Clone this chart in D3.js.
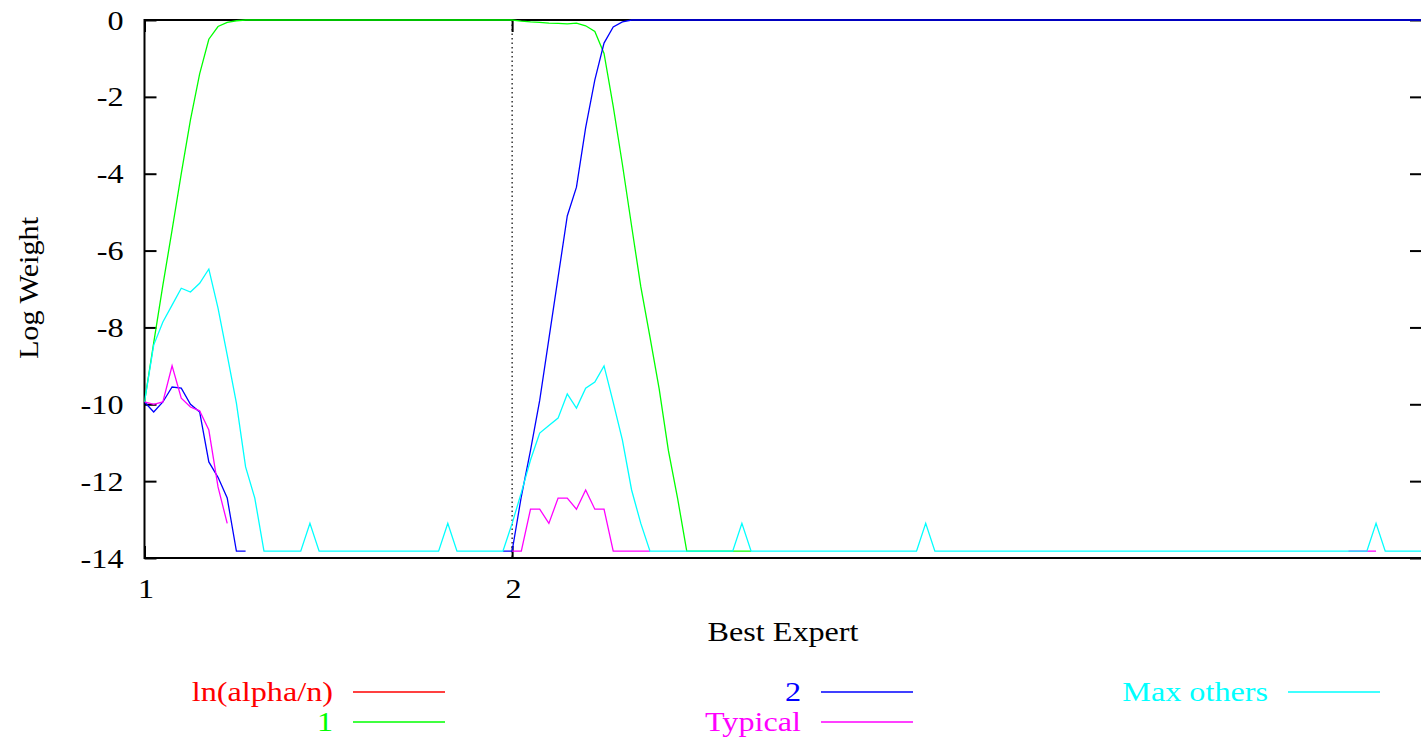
<!DOCTYPE html>
<html>
<head>
<meta charset="utf-8">
<script src="https://cdn.jsdelivr.net/npm/d3@7"></script>
<style>
    body { margin: 0; background: #fff; }
    svg { display: block; font-family: "Liberation Serif", "Times New Roman", serif; }
</style>
</head>
<body>
<svg id="chart" width="1421" height="741"></svg>
<script>
// floor value (weights never go below this) and gaps
var F = -13.82, N = null;

var xTickSteps = [0, 40];
var xTickLabels = ['1', '2'];
var yTicks = [0, -2, -4, -6, -8, -10, -12, -14];

// ln(alpha/n) sits below the visible range
var lnAlphaN = -16.12;

var expert1 = [
    -9.94, -8.4, -6.9, -5.47, -4.0, -2.6, -1.4, -0.5, -0.17, -0.06,
    -0.02, 0, 0, 0, 0, 0, 0, 0, 0, 0,
    0, 0, 0, 0, 0, 0, 0, 0, 0, 0,
    0, 0, 0, 0, 0, 0, 0, 0, 0, 0,
    0, -0.03, -0.05, -0.06, -0.08, -0.09, -0.1, -0.08, -0.15, -0.3,
    -0.87, -2.25, -3.76, -5.36, -6.94, -8.25, -9.6, -11.2, -12.44, F,
    F, F, F, F, F, F, F, N, N, N,
    N, N, N, N, N, N, N, N, N, N,
    N, N, N, N, N, N, N, N, N, N,
    N, N, N, N, N, N, N, N, N, N,
    N, N, N, N, N, N, N, N, N, N,
    N, N, N, N, N, N, N, N, N, N,
    N, N, N, N, N, N, N, N, N, N,
    N, N, N, N, N, N, N, N, N, N
];

var expert2 = [
    -9.94, -10.2, -9.94, -9.55, -9.58, -10.0, -10.2, -11.5, -11.9, -12.44,
    F, F, N, N, N, N, N, N, N, N,
    N, N, N, N, N, N, N, N, N, N,
    N, N, N, N, N, N, N, N, N, F,
    F, -12.4, -11.2, -9.9, -8.3, -6.7, -5.1, -4.35, -2.8, -1.56,
    -0.6, -0.18, -0.05, 0, 0, 0, 0, 0, 0, 0,
    0, 0, 0, 0, 0, 0, 0, 0, 0, 0,
    0, 0, 0, 0, 0, 0, 0, 0, 0, 0,
    0, 0, 0, 0, 0, 0, 0, 0, 0, 0,
    0, 0, 0, 0, 0, 0, 0, 0, 0, 0,
    0, 0, 0, 0, 0, 0, 0, 0, 0, 0,
    0, 0, 0, 0, 0, 0, 0, 0, 0, 0,
    0, 0, 0, 0, 0, 0, 0, 0, 0, 0,
    0, 0, 0, 0, 0, 0, 0, 0, 0, 0
];

var typical = [
    -9.94, -10.0, -9.94, -9.0, -9.84, -10.07, -10.17, -10.67, -12.15, -13.1,
    N, N, N, N, N, N, N, N, N, N,
    N, N, N, N, N, N, N, N, N, N,
    N, N, N, N, N, N, N, N, N, N,
    F, F, -12.73, -12.73, -13.1, -12.44, -12.44, -12.73, -12.23, -12.73,
    -12.73, F, F, F, F, F, N, N, N, N,
    N, N, N, N, N, N, N, N, N, N,
    N, N, N, N, N, N, N, N, N, N,
    N, N, N, N, N, N, N, N, N, N,
    N, N, N, N, N, N, N, N, N, N,
    N, N, N, N, N, N, N, N, N, N,
    N, N, N, N, N, N, N, N, N, N,
    N, N, N, N, N, N, N, N, N, N,
    N, F, F, F, F, N, N, N, N, N
];

var maxOthers = [
    -9.94, -8.46, -7.86, -7.42, -6.98, -7.08, -6.85, -6.48, -7.5, -8.72,
    -9.97, -11.63, -12.44, F, F, F, F, F, -13.1, F,
    F, F, F, F, F, F, F, F, F, F,
    F, F, F, -13.1, F, F, F, F, F, F,
    -13.1, -12.3, -11.45, -10.75, -10.55, -10.36, -9.73, -10.1, -9.58, -9.42,
    -9.0, -9.95, -10.93, -12.23, -13.1, F, F, F, F, F,
    F, F, F, F, F, -13.1, F, F, F, F,
    F, F, F, F, F, F, F, F, F, F,
    F, F, F, F, F, -13.1, F, F, F, F,
    F, F, F, F, F, F, F, F, F, F,
    F, F, F, F, F, F, F, F, F, F,
    F, F, F, F, F, F, F, F, F, F,
    F, F, F, F, F, F, F, F, F, F,
    F, F, F, F, -13.1, F, F, F, F, F
];

var lnAlphaValues = expert2.map(function () { return lnAlphaN; });

var seriesNames = ['ln(alpha/n)', '1', '2', 'Typical', 'Max others'];
var seriesColors = ['#ff0000', '#00ff00', '#0000ff', '#ff00ff', '#00ffff'];
var seriesData = [lnAlphaValues, expert1, expert2, typical, maxOthers];

(function () {
    var pLeft = 144.5, pRight = 1422, pTop = 20, pBottom = 558;
    var svg = d3.select('#chart');

    var x = d3.scaleLinear().domain([0, 139]).range([pLeft, pRight]);
    var y = d3.scaleLinear().domain([-14, 0]).range([pBottom, pTop]);

    // gnuplot text, a bit wider than the font
    function styled(sel) {
        return sel.attr('font-size', 28).attr('fill', '#000');
    }

    // clip for the curves
    svg.append('clipPath').attr('id', 'plotclip')
        .append('rect')
        .attr('x', pLeft).attr('y', pTop - 3)
        .attr('width', pRight - pLeft).attr('height', pBottom - pTop + 3);

    // dotted segment marker
    svg.append('line')
        .attr('x1', x(40)).attr('x2', x(40))
        .attr('y1', pTop).attr('y2', pBottom)
        .attr('stroke', '#000')
        .attr('stroke-width', 1.2)
        .attr('stroke-dasharray', '1.5,3');

    // y axis, left and mirrored right
    var yAxisL = svg.append('g')
        .attr('transform', 'translate(' + pLeft + ',0)')
        .call(d3.axisLeft(y).tickValues(yTicks).tickSize(-12).tickFormat(function (d) { return String(d); }));
    var yAxisR = svg.append('g')
        .attr('transform', 'translate(' + pRight + ',0)')
        .call(d3.axisRight(y).tickValues(yTicks).tickSize(-12).tickFormat(''));

    // x axis, bottom and mirrored top
    var xAxisB = svg.append('g')
        .attr('transform', 'translate(0,' + pBottom + ')')
        .call(d3.axisBottom(x).tickValues(xTickSteps).tickSize(-12)
            .tickFormat(function (d, i) { return xTickLabels[i]; }));
    var xAxisT = svg.append('g')
        .attr('transform', 'translate(0,' + pTop + ')')
        .call(d3.axisTop(x).tickValues(xTickSteps).tickSize(-12).tickFormat(''));

    [yAxisL, yAxisR, xAxisB, xAxisT].forEach(function (ax) {
        ax.attr('font-family', null).attr('font-size', null);
        ax.select('.domain').remove();
        ax.selectAll('line').attr('stroke', '#000').attr('stroke-width', 2);
    });

    yAxisL.selectAll('text')
        .attr('x', null).attr('dy', null)
        .attr('text-anchor', 'end')
        .attr('transform', 'translate(-21,9) scale(1.15,1)')
        .call(styled);

    xAxisB.selectAll('text')
        .attr('y', null).attr('dy', null)
        .attr('text-anchor', 'middle')
        .attr('transform', 'translate(1,40) scale(1.15,1)')
        .call(styled);

    // plot border
    svg.append('rect')
        .attr('x', pLeft).attr('y', pTop)
        .attr('width', pRight - pLeft).attr('height', pBottom - pTop)
        .attr('fill', 'none')
        .attr('stroke', '#000')
        .attr('stroke-width', 2);

    // the curves
    var line = d3.line()
        .defined(function (d) { return d != null; })
        .x(function (d, i) { return x(i); })
        .y(function (d) { return y(d); });

    var curves = svg.append('g').attr('clip-path', 'url(#plotclip)');
    seriesData.forEach(function (vals, k) {
        curves.append('path')
            .datum(vals)
            .attr('d', line)
            .attr('fill', 'none')
            .attr('stroke', seriesColors[k])
            .attr('stroke-width', 1.3);
    });

    // axis titles
    svg.append('text')
        .attr('transform', 'translate(783,641) scale(1.15,1)')
        .attr('text-anchor', 'middle')
        .text('Best Expert')
        .call(styled);

    svg.append('text')
        .attr('transform', 'translate(38,288) rotate(-90) scale(1.08,1)')
        .attr('text-anchor', 'middle')
        .text('Log Weight')
        .call(styled);

    // legend, filled column by column
    var legendCols = [333, 801, 1268];
    var legendRows = [692, 722];
    seriesNames.forEach(function (name, k) {
        var cx = legendCols[Math.floor(k / 2)];
        var cy = legendRows[k % 2];
        svg.append('text')
            .attr('transform', 'translate(' + cx + ',' + (cy + 9) + ') scale(1.15,1)')
            .attr('text-anchor', 'end')
            .text(name)
            .call(styled)
            .attr('fill', seriesColors[k]);
        svg.append('line')
            .attr('x1', cx + 20).attr('x2', cx + 112)
            .attr('y1', cy).attr('y2', cy)
            .attr('stroke', seriesColors[k])
            .attr('stroke-width', 1.3);
    });
})();
</script>
</body>
</html>
